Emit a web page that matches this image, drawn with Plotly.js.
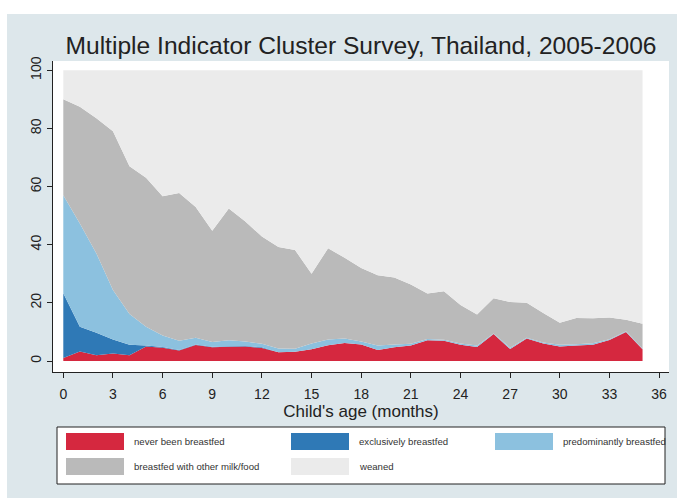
<!DOCTYPE html>
<html>
<head>
<meta charset="utf-8">
<script src="https://cdn.plot.ly/plotly-3.0.1.min.js"></script>
<style>html,body{margin:0;padding:0;background:#fff;}#chart{width:677px;height:498px;}</style>
</head>
<body>
<div id="chart"></div>
<script>
// Child's age in months
const months = [0,1,2,3,4,5,6,7,8,9,10,11,12,13,14,15,16,17,18,19,20,21,22,23,24,25,26,27,28,29,30,31,32,33,34,35];
// Percent of children by feeding status
const neverBreastfed = [1,3.3,2,2.6,2,5,4.6,3.6,5.5,4.7,4.9,5,4.5,3,3.2,4,5.4,6.2,5.7,3.8,4.7,5.3,7.1,7,5.6,4.8,9.3,4.1,7.7,6,5,5.3,5.6,7.2,10,4];
const exclusivelyBreastfed = [22.3,8.5,7.7,4.8,3.6,0.3,0.2,0.2,0.2,0.2,0.2,0.2,0.2,0,0,0,0,0,0,0,0,0,0,0,0,0,0,0,0,0,0,0,0,0,0,0];
const predominantlyBreastfed = [33.7,35.5,27.3,17,10.6,6.5,4,3.2,2.3,1.6,2,1.5,1.2,1.3,1,2,2,1.5,1,1.5,1,0.6,0.5,0.3,0.4,0.5,0.2,0.5,0.3,0.4,0.6,0.5,0.5,0.3,0.2,0.3];
const otherMilkFood = [33,40.2,46.5,54.6,50.8,51.2,47.9,50.8,45,38.3,45.4,41.3,36.9,34.9,34,24,31.4,27.8,25.3,24.2,23,20.4,15.6,16.7,13.3,10.7,12.1,15.7,12,10.1,7.6,9,8.6,7.5,4,8.5];
const weaned = [10,12.5,16.5,21,33,37,43.3,42.2,47,55.2,47.5,52,57.2,60.8,61.8,70,61.2,64.5,68,70.5,71.3,73.7,76.8,76,80.7,84,78.4,79.7,80,83.5,86.8,85.2,85.3,85,85.8,87.2];

const seriesNames = ["never been breastfed","exclusively breastfed","predominantly breastfed","breastfed with other milk/food","weaned"];
const xTicks = [0,3,6,9,12,15,18,21,24,27,30,33,36];
const yTicks = [0,20,40,60,80,100];

const colors = ["#d5283f","#2f79b6","#8cc1df","#bababa","#ebebeb"];
const seriesValues = [neverBreastfed, exclusivelyBreastfed, predominantlyBreastfed, otherMilkFood, weaned];

const font = "Liberation Sans, Arial, sans-serif";
const traces = seriesValues.map((vals, i) => ({
  type: "scatter",
  x: months,
  y: vals,
  name: seriesNames[i],
  stackgroup: "one",
  mode: "none",
  fillcolor: colors[i],
  hoverinfo: "skip"
}));

// plot area in pixels
const L = 53, R = 669, T = 61, B = 372, W = 677, H = 498;
const px = x => (x - L) / (R - L);
const py = y => (B - y) / (B - T);

const shapes = [
  {type:"rect", xref:"paper", yref:"paper", x0:px(0), x1:px(W), y0:py(14), y1:py(0), fillcolor:"#ffffff", line:{width:0}, layer:"below"},
  {type:"rect", xref:"paper", yref:"paper", x0:px(0), x1:px(7), y0:py(H), y1:py(0), fillcolor:"#ffffff", line:{width:0}, layer:"below"},
  {type:"rect", xref:"paper", yref:"paper", x0:px(57), x1:px(665), y0:py(484), y1:py(427), fillcolor:"#ffffff", line:{color:"#222", width:1}}
];
const annotations = [];
const legendPos = [[66,433],[291,433],[495,433],[66,458],[291,458]];
legendPos.forEach((p, i) => {
  shapes.push({type:"rect", xref:"paper", yref:"paper", x0:px(p[0]), x1:px(p[0]+58), y0:py(p[1]+17), y1:py(p[1]), fillcolor:colors[i], line:{width:0}});
  annotations.push({xref:"paper", yref:"paper", x:px(p[0]+66), y:py(p[1]+8.5), xanchor:"left", yanchor:"middle", showarrow:false, text:seriesNames[i], font:{family:font, size:9.6, color:"#333"}});
});

const layout = {
  width: W, height: H,
  margin: {l:L, r:W-R, t:T, b:H-B, pad:0},
  paper_bgcolor: "#dde7eb",
  plot_bgcolor: "#ffffff",
  showlegend: false,
  font: {family: font, color:"#222"},
  title: {text:"Multiple Indicator Cluster Survey, Thailand, 2005-2006", font:{family:font, size:24.6, color:"#222"}, x:0.5, xref:"paper", xanchor:"center", y:1-45/H, yref:"container", yanchor:"middle"},
  xaxis: {
    range:[(L-63.3)/16.55, (R-63.3)/16.55], tickvals:xTicks, ticktext:xTicks.map(String),
    ticks:"outside", ticklen:5, tickcolor:"#222", showline:true, linecolor:"#222", linewidth:1,
    showgrid:false, zeroline:false, tickfont:{size:14, color:"#222"}, automargin:false, ticklabelstandoff:4,
    title:{text:"Child's age (months)", font:{size:17, color:"#222"}, standoff:0}
  },
  yaxis: {
    range:[(361-B)/2.907, (361-T)/2.907], tickvals:yTicks, ticktext:yTicks.map(String),
    ticks:"outside", ticklen:5, tickcolor:"#222", showline:true, linecolor:"#222", linewidth:1,
    showgrid:false, zeroline:false, tickangle:-90, tickfont:{size:14, color:"#222"}, automargin:false
  },
  shapes: shapes,
  annotations: annotations
};
Plotly.newPlot("chart", traces, layout, {staticPlot:true, displayModeBar:false});
</script>
</body>
</html>
